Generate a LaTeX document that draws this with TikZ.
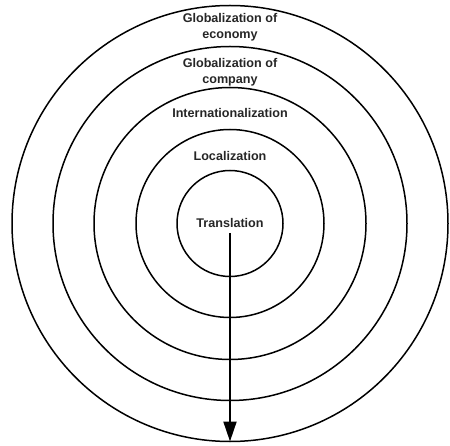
\documentclass[tikz,border=0pt]{standalone}
\usepackage{fontspec}
\setmainfont{Liberation Sans}
\usetikzlibrary{arrows.meta}
\begin{document}
\begin{tikzpicture}[x=1pt,y=-1pt,
  ring/.style={circle,draw=black,line width=1.5pt,inner sep=0pt,outer sep=0pt,minimum size=#1},
  lbl/.style={font=\fontsize{12.6}{15.5}\selectfont\bfseries,text=black!85,align=center,inner sep=0pt},
  flow/.style={line width=2pt,-{Triangle[length=20pt,width=13pt]}}]
  \useasboundingbox (0,0) rectangle (450,446);
  % concentric levels
  \node[ring=436pt] (economy) at (230,223.5) {};
  \node[ring=354pt] (company) at (230,223.5) {};
  \node[ring=272pt] (intl) at (230,223.5) {};
  \node[ring=188pt] (local) at (230,223.5) {};
  \node[ring=106pt] (transl) at (230,223.5) {};
  % level names
  \node[lbl] (teconomy) at (230,27) {Globalization of\\economy};
  \node[lbl] (tcompany) at (230,72) {Globalization of\\company};
  \node[lbl] (tintl) at (230,113) {Internationalization};
  \node[lbl] (tlocal) at (230,156) {Localization};
  \node[lbl] (ttransl) at (230,223) {Translation};
  % outward arrow
  \coordinate (start) at (230,233);
  \draw[flow] (start) -- (economy.south);
\end{tikzpicture}
\end{document}
